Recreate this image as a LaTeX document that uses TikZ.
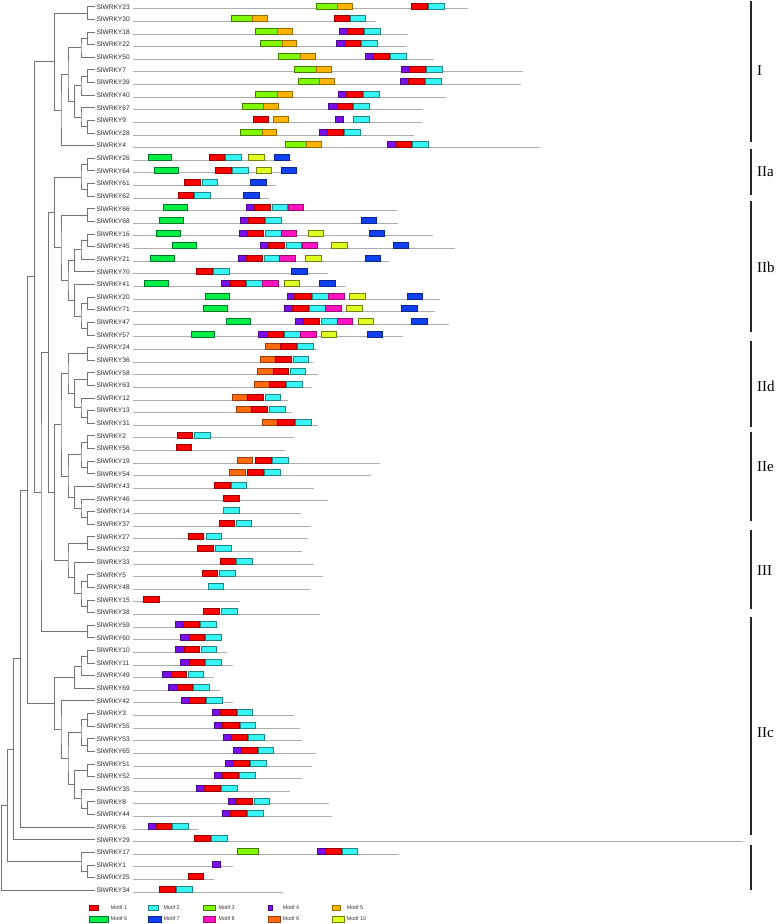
\documentclass[tikz,border=0pt]{standalone}
\usepackage{fontspec}
\setsansfont{Liberation Sans}
\newfontfamily\grpfont{Liberation Serif}
\usetikzlibrary{calc}
\definecolor{mcA}{HTML}{FF0000}
\definecolor{mcB}{HTML}{38F4F4}
\definecolor{mcC}{HTML}{80F800}
\definecolor{mcD}{HTML}{7A10E8}
\definecolor{mcE}{HTML}{FFB400}
\definecolor{mcF}{HTML}{00EE48}
\definecolor{mcG}{HTML}{1040F0}
\definecolor{mcH}{HTML}{FF14C0}
\definecolor{mcI}{HTML}{FF6A10}
\definecolor{mcJ}{HTML}{E0FF20}
\tikzset{
  mbox/.style={line width=0.4pt},
  m1/.style={mbox,fill=mcA,draw=mcA!60!black},
  m2/.style={mbox,fill=mcB,draw=mcB!55!black},
  m3/.style={mbox,fill=mcC,draw=mcC!50!black},
  m4/.style={mbox,fill=mcD,draw=mcD!60!black},
  m5/.style={mbox,fill=mcE,draw=mcE!60!black},
  m6/.style={mbox,fill=mcF,draw=mcF!50!black},
  m7/.style={mbox,fill=mcG,draw=mcG!60!black},
  m8/.style={mbox,fill=mcH,draw=mcH!60!black},
  m9/.style={mbox,fill=mcI,draw=mcI!60!black},
  m10/.style={mbox,fill=mcJ,draw=mcJ!50!black},
  lbl/.style={anchor=west,inner sep=1.5pt,text height=4.8pt,text depth=0pt,
    font=\sffamily\fontsize{6.6}{7}\selectfont,text=black!85},
  gline/.style={draw=black!32,line width=0.8pt},
  tree/.style={draw=black!55,line width=0.65pt},
  grpbar/.style={draw=black!85,line width=2pt},
  grplbl/.style={anchor=west,inner sep=0pt,font=\grpfont\fontsize{15}{15}\selectfont},
  leg/.style={anchor=west,inner sep=0pt,font=\sffamily\fontsize{5.4}{6}\selectfont,text=black!80}
}
\newcommand\mb[3]{\path[#1] (#2,\gy-4) rectangle (#3,\gy+2);}
\newcommand\gene[4]{%
  \pgfmathsetmacro\gy{6.7+(#1-1)*12.62}%
  \node[lbl] (L#1) at (95,\gy) {#2};
  \draw[gline] (133,\gy+2) -- (#3,\gy+2);
  #4}
\newcommand\tn[4]{%
  \path let \p1=($(#3)!0.5!(#4)$) in (#2pt,\y1) coordinate (#1);
  \draw[tree] (#3) -| (#1) |- (#4);}
\begin{document}
\begin{tikzpicture}[x=1pt,y=-1pt]
\useasboundingbox (0,0) rectangle (778,924);
% genes
\gene{1}{SlWRKY23}{468.3}{\mb{m3}{316}{337.3}\mb{m5}{337.3}{352.3}\mb{m1}{411}{427}\mb{m2}{428}{443.7}}
\gene{2}{SlWRKY30}{375.7}{\mb{m3}{230.7}{251.7}\mb{m5}{251.7}{266.7}\mb{m1}{333.7}{348.7}\mb{m2}{350}{365.3}}
\gene{3}{SlWRKY18}{407.7}{\mb{m3}{255.3}{276.7}\mb{m5}{276.7}{291.7}\mb{m4}{339.3}{347.3}\mb{m1}{347.3}{363}\mb{m2}{364.3}{379.7}}
\gene{4}{SlWRKY22}{406.7}{\mb{m3}{260}{281.7}\mb{m5}{281.7}{296.3}\mb{m4}{336.3}{344.7}\mb{m1}{344.7}{360}\mb{m2}{361.3}{376.7}}
\gene{5}{SlWRKY50}{434.3}{\mb{m3}{278.3}{300}\mb{m5}{300}{315}\mb{m4}{365}{373.3}\mb{m1}{373.3}{389}\mb{m2}{390.3}{405.7}}
\gene{6}{SlWRKY7}{523.3}{\mb{m3}{294.3}{316}\mb{m5}{316}{330.7}\mb{m4}{400.7}{408.7}\mb{m1}{408.7}{425}\mb{m2}{426}{441.7}}
\gene{7}{SlWRKY39}{521}{\mb{m3}{297.7}{319.3}\mb{m5}{319.3}{334.3}\mb{m4}{400}{408.3}\mb{m1}{408.3}{424}\mb{m2}{425.3}{441}}
\gene{8}{SlWRKY40}{446.3}{\mb{m3}{255.3}{276.7}\mb{m5}{276.7}{291.7}\mb{m4}{338}{346.3}\mb{m1}{346.3}{362}\mb{m2}{363.3}{378.7}}
\gene{9}{SlWRKY67}{423.3}{\mb{m3}{241.7}{263.3}\mb{m5}{263.3}{277.7}\mb{m4}{328.3}{336.7}\mb{m1}{336.7}{352}\mb{m2}{353.3}{369.3}}
\gene{10}{SlWRKY9}{422.3}{\mb{m1}{253.3}{268.3}\mb{m5}{273.3}{288.3}\mb{m4}{335}{343}\mb{m2}{353}{368.7}}
\gene{11}{SlWRKY28}{414.3}{\mb{m3}{240.3}{261.7}\mb{m5}{261.7}{276.3}\mb{m4}{319}{327.3}\mb{m1}{327.3}{343}\mb{m2}{344.3}{359.7}}
\gene{12}{SlWRKY4}{540}{\mb{m3}{285}{306.3}\mb{m5}{306.3}{320.7}\mb{m4}{387.3}{395.7}\mb{m1}{395.7}{411}\mb{m2}{412.3}{427.7}}
\gene{13}{SlWRKY26}{291.7}{\mb{m6}{147.7}{170.7}\mb{m1}{208.7}{224}\mb{m2}{225.3}{241}\mb{m10}{248.3}{264.3}\mb{m7}{273.7}{289.3}}
\gene{14}{SlWRKY64}{297.3}{\mb{m6}{154}{177.7}\mb{m1}{215}{230.7}\mb{m2}{232}{247.7}\mb{m10}{255.7}{271}\mb{m7}{281}{296.3}}
\gene{15}{SlWRKY61}{276.3}{\mb{m1}{184.3}{200}\mb{m2}{202}{217}\mb{m7}{250}{265.7}}
\gene{16}{SlWRKY62}{269}{\mb{m1}{177.7}{193}\mb{m2}{194.3}{210}\mb{m7}{243.3}{259}}
\gene{17}{SlWRKY66}{397}{\mb{m6}{163.3}{187}\mb{m4}{246}{254.3}\mb{m1}{254.3}{270}\mb{m2}{271.7}{287.3}\mb{m8}{288}{303}}
\gene{18}{SlWRKY68}{397.7}{\mb{m6}{159.3}{183}\mb{m4}{239.7}{247.7}\mb{m1}{247.7}{263.7}\mb{m2}{265}{280.7}\mb{m7}{361}{376.3}}
\gene{19}{SlWRKY16}{433.3}{\mb{m6}{156.3}{179.7}\mb{m4}{239.3}{247.3}\mb{m1}{247.3}{263}\mb{m2}{264.7}{280.7}\mb{m8}{280.7}{296.3}\mb{m10}{307.7}{323}\mb{m7}{369.3}{384.3}}
\gene{20}{SlWRKY45}{455}{\mb{m6}{172.3}{195.7}\mb{m4}{260}{268}\mb{m1}{268}{283.7}\mb{m2}{286}{301.3}\mb{m8}{301.7}{317}\mb{m10}{331}{346.7}\mb{m7}{393}{408.3}}
\gene{21}{SlWRKY21}{389.3}{\mb{m6}{150.3}{173.7}\mb{m4}{238}{246.3}\mb{m1}{246.3}{262}\mb{m2}{263.7}{279}\mb{m8}{279.3}{295}\mb{m10}{305.3}{320.7}\mb{m7}{365}{380.3}}
\gene{22}{SlWRKY70}{328.3}{\mb{m1}{196}{211.7}\mb{m2}{213}{229}\mb{m7}{291.3}{307.3}}
\gene{23}{SlWRKY41}{345.7}{\mb{m6}{144}{167.7}\mb{m4}{220.7}{229.7}\mb{m1}{229.7}{245.3}\mb{m2}{246.3}{262.3}\mb{m8}{262.3}{277.7}\mb{m10}{284}{299.3}\mb{m7}{319.3}{335}}
\gene{24}{SlWRKY20}{440}{\mb{m6}{205.3}{229}\mb{m4}{286.7}{294.3}\mb{m1}{294.3}{310.7}\mb{m2}{312.3}{327.7}\mb{m8}{328.3}{344}\mb{m10}{349}{365}\mb{m7}{406.7}{422.3}}
\gene{25}{SlWRKY71}{435}{\mb{m6}{203.3}{227}\mb{m4}{283.7}{291.7}\mb{m1}{291.7}{308}\mb{m2}{309}{324.7}\mb{m8}{325}{341}\mb{m10}{346.3}{362}\mb{m7}{400.7}{416.7}}
\gene{26}{SlWRKY47}{449.3}{\mb{m6}{226.3}{249.7}\mb{m4}{295}{303.3}\mb{m1}{303.3}{319.3}\mb{m2}{321}{336.7}\mb{m8}{336.7}{352.3}\mb{m10}{357.7}{373.3}\mb{m7}{411.3}{427}}
\gene{27}{SlWRKY57}{402.7}{\mb{m6}{190.7}{214.3}\mb{m4}{258.3}{266.7}\mb{m1}{266.7}{282.7}\mb{m2}{284}{299.7}\mb{m8}{299.7}{315.7}\mb{m10}{321}{336.3}\mb{m7}{366.7}{382}}
\gene{28}{SlWRKY24}{317.7}{\mb{m9}{264.7}{280.3}\mb{m1}{280.3}{296}\mb{m2}{297.3}{313}}
\gene{29}{SlWRKY36}{313.3}{\mb{m9}{260}{275}\mb{m1}{275}{291}\mb{m2}{292.7}{308.3}}
\gene{30}{SlWRKY58}{318.3}{\mb{m9}{257.3}{272.7}\mb{m1}{272.7}{288.3}\mb{m2}{290}{305.3}}
\gene{31}{SlWRKY63}{311.7}{\mb{m9}{253.7}{268.7}\mb{m1}{268.7}{285}\mb{m2}{286}{301.7}}
\gene{32}{SlWRKY12}{288.3}{\mb{m9}{232}{247}\mb{m1}{247}{263}\mb{m2}{264.7}{280.3}}
\gene{33}{SlWRKY13}{291.7}{\mb{m9}{236.3}{251.3}\mb{m1}{251.3}{267.3}\mb{m2}{269}{284.7}}
\gene{34}{SlWRKY31}{318.3}{\mb{m9}{262.3}{277.3}\mb{m1}{277.3}{293.7}\mb{m2}{295}{310.7}}
\gene{35}{SlWRKY2}{294.3}{\mb{m1}{177}{192.3}\mb{m2}{194}{209.7}}
\gene{36}{SlWRKY56}{285.3}{\mb{m1}{176}{191.3}}
\gene{37}{SlWRKY19}{380}{\mb{m9}{237}{252.3}\mb{m1}{255.3}{270.7}\mb{m2}{272}{287.7}}
\gene{38}{SlWRKY54}{370.7}{\mb{m9}{229.3}{244.7}\mb{m1}{247}{262.7}\mb{m2}{264.3}{280}}
\gene{39}{SlWRKY43}{314}{\mb{m1}{214}{229.7}\mb{m2}{231}{246.3}}
\gene{40}{SlWRKY46}{328.3}{\mb{m1}{222.7}{238.7}}
\gene{41}{SlWRKY14}{301}{\mb{m2}{223.3}{239}}
\gene{42}{SlWRKY37}{311}{\mb{m1}{218.7}{234.3}\mb{m2}{236}{251.3}}
\gene{43}{SlWRKY27}{308.3}{\mb{m1}{187.7}{203.3}\mb{m2}{206}{221}}
\gene{44}{SlWRKY32}{301.7}{\mb{m1}{197}{212.7}\mb{m2}{215}{230.7}}
\gene{45}{SlWRKY33}{313.7}{\mb{m1}{220.3}{236.3}\mb{m2}{236.3}{251.7}}
\gene{46}{SlWRKY5}{323.3}{\mb{m1}{201.7}{217}\mb{m2}{219.3}{235.3}}
\gene{47}{SlWRKY48}{309.7}{\mb{m2}{208}{223.3}}
\gene{48}{SlWRKY15}{240.3}{\mb{m1}{143.3}{159}}
\gene{49}{SlWRKY38}{320.3}{\mb{m1}{203.3}{218.7}\mb{m2}{221}{236.7}}
\gene{50}{SlWRKY59}{218.3}{\mb{m4}{174.7}{183.3}\mb{m1}{183.3}{198.7}\mb{m2}{200}{215.7}}
\gene{51}{SlWRKY60}{222.3}{\mb{m4}{180.3}{188.7}\mb{m1}{188.7}{204}\mb{m2}{205.3}{221}}
\gene{52}{SlWRKY10}{227}{\mb{m4}{175.3}{183.7}\mb{m1}{183.7}{199}\mb{m2}{201}{216}}
\gene{53}{SlWRKY11}{233.3}{\mb{m4}{180.3}{188.7}\mb{m1}{188.7}{204}\mb{m2}{205.3}{221}}
\gene{54}{SlWRKY49}{214.3}{\mb{m4}{162.3}{170.7}\mb{m1}{170.7}{186.3}\mb{m2}{187.7}{203.3}}
\gene{55}{SlWRKY69}{219.7}{\mb{m4}{168}{176.7}\mb{m1}{176.7}{192.3}\mb{m2}{193.3}{209}}
\gene{56}{SlWRKY42}{233.3}{\mb{m4}{181.3}{189.3}\mb{m1}{189.3}{205.3}\mb{m2}{206.3}{221.7}}
\gene{57}{SlWRKY3}{293.7}{\mb{m4}{211.7}{220}\mb{m1}{220}{236}\mb{m2}{237}{252.3}}
\gene{58}{SlWRKY55}{299.7}{\mb{m4}{214}{222.3}\mb{m1}{222.3}{238.7}\mb{m2}{240}{255.3}}
\gene{59}{SlWRKY53}{301.7}{\mb{m4}{222.7}{231.3}\mb{m1}{231.3}{247}\mb{m2}{248}{263.7}}
\gene{60}{SlWRKY65}{315.7}{\mb{m4}{232.7}{241}\mb{m1}{241}{257}\mb{m2}{258}{273}}
\gene{61}{SlWRKY51}{311.7}{\mb{m4}{225}{233.3}\mb{m1}{233.3}{249.3}\mb{m2}{250}{265.7}}
\gene{62}{SlWRKY52}{301.7}{\mb{m4}{213.7}{222}\mb{m1}{222}{238}\mb{m2}{239}{254.7}}
\gene{63}{SlWRKY35}{289.7}{\mb{m4}{196}{204.3}\mb{m1}{204.3}{220.3}\mb{m2}{221}{236.7}}
\gene{64}{SlWRKY8}{329}{\mb{m4}{228.3}{236.3}\mb{m1}{236.3}{252.3}\mb{m2}{253.7}{269}}
\gene{65}{SlWRKY44}{331.7}{\mb{m4}{221.7}{230.3}\mb{m1}{230.3}{246}\mb{m2}{247}{262.7}}
\gene{66}{SlWRKY6}{197.7}{\mb{m4}{147.7}{156}\mb{m1}{156}{171.7}\mb{m2}{172.3}{188}}
\gene{67}{SlWRKY29}{743.3}{\mb{m1}{194.3}{210}\mb{m2}{211}{226.7}}
\gene{68}{SlWRKY17}{399}{\mb{m3}{237}{258.3}\mb{m4}{316.7}{324.7}\mb{m1}{324.7}{341}\mb{m2}{342}{357}}
\gene{69}{SlWRKY1}{232.7}{\mb{m4}{211.7}{219.7}}
\gene{70}{SlWRKY25}{213.7}{\mb{m1}{187.7}{203.3}}
\gene{71}{SlWRKY34}{283}{\mb{m1}{159}{175}\mb{m2}{176.3}{191.7}}
% tree: group I
\tn{a1}{87.3}{L1.west}{L2.west}
\tn{a2}{87.3}{L3.west}{L4.west}
\tn{a3}{81}{a2}{L5.west}
\tn{a4}{87.3}{L6.west}{L7.west}
\tn{a5}{81}{a4}{L8.west}
\tn{a6}{87.3}{L10.west}{L11.west}
\tn{a7}{81}{L9.west}{a6}
\tn{a8}{74.7}{a5}{a7}
\tn{a9}{68}{a3}{a8}
\tn{a10}{61}{a9}{L12.west}
\tn{a11}{54.3}{a1}{a10}
% IIa, IIb
\tn{b1}{87.3}{L13.west}{L14.west}
\tn{b2}{87.3}{L15.west}{L16.west}
\tn{b3}{81}{b1}{b2}
\tn{c1}{87.3}{L17.west}{L18.west}
\tn{c2}{87.3}{L19.west}{L20.west}
\tn{c3}{81}{c2}{L21.west}
\tn{c4}{74.7}{c3}{L22.west}
\tn{c5}{87.3}{L24.west}{L25.west}
\tn{c6}{87.3}{L26.west}{L27.west}
\tn{c7}{81}{c5}{c6}
\tn{c8}{74.7}{L23.west}{c7}
\tn{c9}{68}{c4}{c8}
\tn{c10}{61}{c1}{c9}
\tn{c11}{54.3}{b3}{c10}
% IId
\tn{d1}{87.3}{L28.west}{L29.west}
\tn{d2}{87.3}{L30.west}{L31.west}
\tn{d3}{87.3}{L33.west}{L34.west}
\tn{d4}{81}{L32.west}{d3}
\tn{d5}{74.7}{d2}{d4}
\tn{d6}{68}{d1}{d5}
% IIe
\tn{e1}{87.3}{L35.west}{L36.west}
\tn{e2}{87.3}{L37.west}{L38.west}
\tn{e3}{81}{e1}{e2}
\tn{e4}{87.3}{L41.west}{L42.west}
\tn{e5}{81}{L40.west}{e4}
\tn{e6}{74.7}{L39.west}{e5}
\tn{e7}{68}{e3}{e6}
\tn{e8}{61}{d6}{e7}
% III
\tn{f1}{87.3}{L43.west}{L44.west}
\tn{f2}{87.3}{L46.west}{L47.west}
\tn{f3}{87.3}{L48.west}{L49.west}
\tn{f4}{81}{f2}{f3}
\tn{f5}{74.7}{L45.west}{f4}
\tn{f6}{68}{f1}{f5}
\tn{f7}{54.3}{e8}{f6}
\tn{f8}{48.3}{c11}{f7}
\tn{g1}{87.3}{L50.west}{L51.west}
\tn{g2}{41}{f8}{g1}
\tn{g3}{34.3}{a11}{g2}
% IIc
\tn{h1}{87.3}{L52.west}{L53.west}
\tn{h2}{81}{h1}{L54.west}
\tn{h3}{74.7}{h2}{L55.west}
\tn{h4}{87.3}{L57.west}{L58.west}
\tn{h5}{87.3}{L59.west}{L60.west}
\tn{h6}{81}{h4}{h5}
\tn{h7}{87.3}{L61.west}{L62.west}
\tn{h8}{87.3}{L64.west}{L65.west}
\tn{h9}{81}{L63.west}{h8}
\tn{h10}{74.7}{h7}{h9}
\tn{h11}{68}{h6}{h10}
\tn{h12}{61}{L56.west}{h11}
\tn{h13}{54.3}{h3}{h12}
\tn{k1}{27.7}{g3}{h13}
\tn{k2}{20.7}{k1}{L66.west}
\tn{k3}{13.3}{k2}{L67.west}
\tn{k4}{87.3}{L69.west}{L70.west}
\tn{k5}{81}{L68.west}{k4}
\tn{k6}{7.3}{k3}{k5}
\tn{k7}{1.7}{k6}{L71.west}
% group bars
\draw[grpbar] (751,1) -- (751,142);
\draw[grpbar] (751,149) -- (751,195);
\draw[grpbar] (751,201) -- (751,332);
\draw[grpbar] (751,341) -- (751,427);
\draw[grpbar] (751,432) -- (751,521);
\draw[grpbar] (751,530) -- (751,609);
\draw[grpbar] (751,617) -- (751,835);
\draw[grpbar] (751,845) -- (751,890);
\node[grplbl] (gI) at (757,71) {I};
\node[grplbl] (gIIa) at (757,172) {IIa};
\node[grplbl] (gIIb) at (757,267) {IIb};
\node[grplbl] (gIId) at (757,386) {IId};
\node[grplbl] (gIIe) at (757,467) {IIe};
\node[grplbl] (gIII) at (757,571) {III};
\node[grplbl] (gIIc) at (757,733) {IIc};
% legend
\path[m1] (89.3,905.2) rectangle (97.7,910.2);
\path[m2] (148.3,905.2) rectangle (157.7,910.2);
\path[m3] (202.7,905.2) rectangle (215.3,910.2);
\path[m4] (267.7,905.2) rectangle (272.3,910.2);
\path[m5] (331.7,905.2) rectangle (340.3,910.2);
\path[m6] (89.3,916) rectangle (107.7,922);
\path[m7] (148.3,916) rectangle (160.7,922);
\path[m8] (202.7,916) rectangle (215.3,922);
\path[m9] (267.7,916) rectangle (280,922);
\path[m10] (331.7,916) rectangle (343.7,922);
\node[leg] (t1) at (110.7,907.7) {Motif 1};
\node[leg] (t2) at (163.3,907.7) {Motif 2};
\node[leg] (t3) at (218.3,907.7) {Motif 3};
\node[leg] (t4) at (282.7,907.7) {Motif 4};
\node[leg] (t5) at (346.7,907.7) {Motif 5};
\node[leg] (t6) at (110.7,919) {Motif 6};
\node[leg] (t7) at (163.3,919) {Motif 7};
\node[leg] (t8) at (218.3,919) {Motif 8};
\node[leg] (t9) at (282.7,919) {Motif 9};
\node[leg] (t10) at (346.7,919) {Motif 10};
\end{tikzpicture}
\end{document}
